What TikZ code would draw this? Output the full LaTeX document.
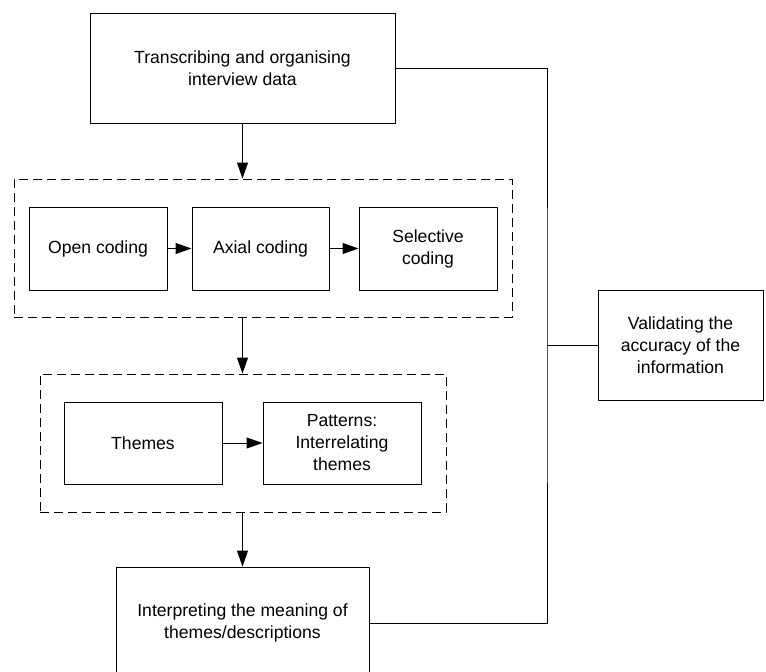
\documentclass[tikz,border=0pt]{standalone}
\usepackage{fontspec}
\setmainfont{Liberation Sans}
\usetikzlibrary{arrows.meta}
\begin{document}
\begin{tikzpicture}[x=1pt,y=-1pt,
  font=\fontsize{17.6}{22}\selectfont,
  stepbox/.style={draw, line width=1pt, rectangle, inner sep=0pt, align=center},
  groupbox/.style={draw, line width=1pt, dash pattern=on 9pt off 5pt, rectangle, inner sep=0pt},
  link/.style={line width=1pt},
  flow/.style={line width=1pt, -{Triangle[length=16pt,width=11pt]}}]
\clip (0,0) rectangle (766,672);

% main stages
\node[stepbox, minimum width=305pt, minimum height=110pt] (top) at (242.5,68)
  {Transcribing and organising\\interview data};
\node[groupbox, minimum width=498pt, minimum height=138pt] (grpA) at (263,248) {};
\node[stepbox, minimum width=138pt, minimum height=83pt] (open) at (98,248.5) {Open coding};
\node[stepbox, minimum width=137pt, minimum height=83pt] (axial) at (260.5,248.5) {Axial coding};
\node[stepbox, minimum width=138pt, minimum height=83pt] (sel) at (428,248.5) {Selective\\coding};

\node[groupbox, minimum width=406pt, minimum height=138pt] (grpB) at (243,443) {};
\node[stepbox, minimum width=158pt, minimum height=82pt] (themes) at (143,443) {Themes};
\node[stepbox, minimum width=158pt, minimum height=82pt] (pat) at (342,443)
  {Patterns:\\Interrelating\\themes};

\node[stepbox, minimum width=253pt, minimum height=112pt] (bot) at (242.5,623)
  {Interpreting the meaning of\\themes/descriptions};

\node[stepbox, minimum width=165pt, minimum height=110pt] (valid) at (680.5,345)
  {Validating the\\accuracy of the\\information};

% flow arrows
\draw[flow] (top.south) -- (top.south |- grpA.north);
\draw[flow] (open.east) -- (axial.west);
\draw[flow] (axial.east) -- (sel.west);
\draw[flow] (grpA.south -| top.south) -- (top.south |- grpB.north);
\draw[flow] (themes.east) -- (pat.west);
\draw[flow] (grpB.south -| top.south) -- (bot.north);

% validation loop
\coordinate (junc) at (547,345);
\draw[link] (top.east) -| (junc) |- (bot.east);
\draw[link] (junc) -- (valid.west);
\end{tikzpicture}
\end{document}
